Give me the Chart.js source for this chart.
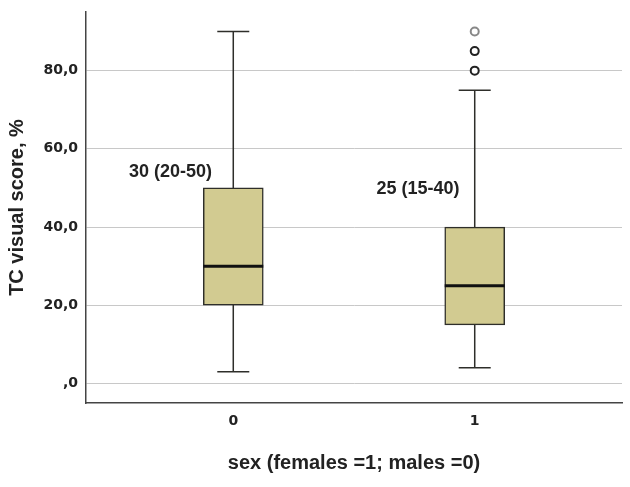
<!DOCTYPE html>
<html>
<head>
<meta charset="utf-8">
<script src="https://cdn.jsdelivr.net/npm/chart.js@4.4.1/dist/chart.umd.min.js"></script>
<style>
  html, body { margin: 0; padding: 0; background: #fff; }
  #wrap { width: 630px; height: 487px; }
</style>
</head>
<body>
<div id="wrap"><canvas id="boxChart" width="630" height="487"></canvas></div>
<script>
// --- data ---
const groups = [0, 1];
const groupLabels = ['0', '1'];
const whiskerLow = [3, 4];
const q1 = [20, 15];
const medians = [30, 25];
const q3 = [50, 40];
const whiskerHigh = [90, 75];
const outlierGroup = [1, 1, 1];
const outlierValues = [80, 85, 90];
const yTicks = [0, 20, 40, 60, 80];
const yTickLabels = [',0', '20,0', '40,0', '60,0', '80,0'];

Chart.defaults.font.family = "'Liberation Sans', Arial, sans-serif";
Chart.defaults.color = '#222';

const boxFill = '#d2cb91';
const lineDark = '#2e2e2a';

// text "median (q1-q3)" next to each box, anchored in value space
const notes = [
    { x: groups[0] - 0.26, y: 54 },
    { x: groups[1] - 0.235, y: 49.6 }
];

const notePlugin = {
    id: 'boxNotes',
    afterDatasetsDraw(chart) {
        const { ctx, scales } = chart;
        ctx.save();
        ctx.font = "bold 18px 'Liberation Sans', Arial, sans-serif";
        ctx.fillStyle = '#222';
        ctx.textAlign = 'center';
        ctx.textBaseline = 'middle';
        notes.forEach((n, i) => {
            const txt = medians[i] + ' (' + q1[i] + '-' + q3[i] + ')';
            ctx.fillText(txt, scales.x.getPixelForValue(n.x), scales.y.getPixelForValue(n.y));
        });
        ctx.restore();
    }
};

const whiskerSets = groups.map((g, i) => ({
    type: 'line',
    data: [{ x: g, y: whiskerLow[i] }, { x: g, y: whiskerHigh[i] }],
    borderColor: lineDark,
    borderWidth: 1.5,
    pointRadius: 0,
    order: 5
}));

// fixed scale boxes, no extra label margins
const fixBox = size => s => {
    if (s.isHorizontal()) s.height = size; else s.width = size;
    s.paddingTop = 0; s.paddingBottom = 0; s.paddingLeft = 0; s.paddingRight = 0;
};

new Chart(document.getElementById('boxChart'), {
    type: 'bar',
    data: {
        datasets: [
            ...whiskerSets,
            {
                type: 'bar',
                data: groups.map((g, i) => ({ x: g, y: [q1[i], q3[i]] })),
                backgroundColor: boxFill,
                borderColor: lineDark,
                borderWidth: 1.5,
                borderSkipped: false,
                barThickness: 60,
                order: 4
            },
            {
                type: 'scatter',
                data: groups.map((g, i) => ({ x: g, y: medians[i] })),
                pointStyle: 'line',
                pointRadius: 30,
                pointBorderWidth: 3,
                pointBorderColor: '#111',
                order: 3
            },
            {
                type: 'scatter',
                data: groups.flatMap((g, i) => [{ x: g, y: whiskerLow[i] }, { x: g, y: whiskerHigh[i] }]),
                pointStyle: 'line',
                pointRadius: 16,
                pointBorderWidth: 1.5,
                pointBorderColor: lineDark,
                order: 3
            },
            {
                type: 'scatter',
                data: outlierValues.map((v, i) => ({ x: outlierGroup[i], y: v })),
                pointStyle: 'circle',
                pointRadius: 4,
                pointBorderWidth: 2,
                pointBorderColor: ['#222', '#222', '#888'],
                pointBackgroundColor: '#fff',
                order: 1
            }
        ]
    },
    options: {
        responsive: false,
        animation: false,
        events: [],
        layout: { autoPadding: false, padding: { top: 12, right: 8, left: 0, bottom: 0 } },
        plugins: { legend: { display: false }, tooltip: { enabled: false } },
        scales: {
            x: {
                type: 'linear',
                min: -0.61,
                max: 1.61,
                offset: false,
                afterFit: fixBox(84),
                afterBuildTicks: s => { s.ticks = groups.map(v => ({ value: v })); },
                grid: { display: false, drawTicks: false },
                border: { display: true, color: '#444', width: 1.5 },
                ticks: {
                    padding: 10,
                    font: { family: "'DejaVu Sans'", size: 14, weight: 'bold' },
                    callback: v => groupLabels[groups.indexOf(v)]
                },
                title: {
                    display: true,
                    text: 'sex (females =1; males =0)',
                    font: { size: 20, weight: 'bold' },
                    padding: { top: 0, bottom: 12 }
                }
            },
            y: {
                min: -5,
                max: 95,
                afterFit: fixBox(86),
                afterBuildTicks: s => { s.ticks = yTicks.map(v => ({ value: v })); },
                grid: { color: '#c8c8c8', lineWidth: 1, drawTicks: false },
                border: { display: true, color: '#444', width: 1.5 },
                ticks: {
                    padding: 8,
                    font: { family: "'DejaVu Sans'", size: 14, weight: 'bold' },
                    callback: v => yTickLabels[yTicks.indexOf(v)]
                },
                title: {
                    display: true,
                    text: 'TC visual score, %',
                    font: { size: 20, weight: 'bold' },
                    padding: { top: 5, bottom: 0 }
                }
            }
        }
    },
    plugins: [notePlugin]
});
</script>
</body>
</html>
